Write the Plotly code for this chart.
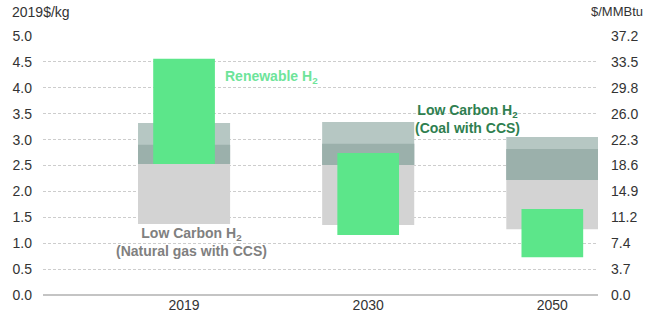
import plotly.graph_objects as go

# Hydrogen production cost ranges, 2019$/kg
years = ["2019", "2030", "2050"]
ng_ccs_low = [1.37, 1.35, 1.27]      # natural gas with CCS
ng_ccs_high = [2.90, 2.92, 2.82]
coal_ccs_low = [2.53, 2.51, 2.22]    # coal with CCS
coal_ccs_high = [3.32, 3.34, 3.05]
renew_low = [2.53, 1.16, 0.73]       # renewable (electrolysis)
renew_high = [4.56, 2.74, 1.66]

kg_to_mmbtu = 7.44                   # 2019$/kg -> $/MMBtu
left_ticks = [0.0, 0.5, 1.0, 1.5, 2.0, 2.5, 3.0, 3.5, 4.0, 4.5, 5.0]

C_GRAY = "#d3d3d3"
C_TEAL = "#b6c7c3"
C_OVER = "#9bb0ab"
C_GREEN = "#5ce68a"

xpos = list(range(len(years)))

fig = go.Figure()


def add_range(low, high, color, width):
    fig.add_trace(go.Bar(
        x=xpos, base=low, y=[h - l for l, h in zip(low, high)],
        width=width, marker=dict(color=color, line=dict(width=0)),
        hoverinfo="skip", showlegend=False,
    ))


add_range(ng_ccs_low, ng_ccs_high, C_GRAY, 0.5)
add_range(coal_ccs_low, coal_ccs_high, C_TEAL, 0.5)
overlap_low = [max(a, b) for a, b in zip(ng_ccs_low, coal_ccs_low)]
overlap_high = [min(a, b) for a, b in zip(ng_ccs_high, coal_ccs_high)]
add_range(overlap_low, overlap_high, C_OVER, 0.5)
add_range(renew_low, renew_high, C_GREEN, 0.335)

# invisible trace to carry the secondary ($/MMBtu) axis
fig.add_trace(go.Scatter(x=[xpos[0]], y=[0], yaxis="y2", mode="markers",
                         marker=dict(opacity=0), hoverinfo="skip", showlegend=False))

font_main = "Liberation Sans, Arial, sans-serif"
tick_font = dict(size=14, color="#333333")

fig.update_layout(
    width=650, height=326,
    margin=dict(l=43, r=48, t=36, b=31),
    paper_bgcolor="white", plot_bgcolor="white",
    barmode="overlay",
    font=dict(family=font_main, size=14, color="#333333"),
    xaxis=dict(
        range=[-0.766, 2.248],
        tickvals=xpos, ticktext=years,
        showgrid=False, zeroline=False, showline=False,
        ticks="", tickfont=tick_font,
    ),
    yaxis=dict(
        range=[0, 5], tickvals=left_ticks,
        ticktext=[f"{v:.1f}" for v in left_ticks],
        showgrid=True, gridcolor="#cdcdcd", gridwidth=1, griddash="3px,2px",
        zeroline=True, zerolinecolor="#c4c4c4", zerolinewidth=2,
        showline=False, ticks="", ticklabelstandoff=10,
        tickfont=tick_font,
    ),
    yaxis2=dict(
        overlaying="y", side="right",
        range=[0, 5 * kg_to_mmbtu],
        tickvals=[v * kg_to_mmbtu for v in left_ticks],
        ticktext=[f"{v * kg_to_mmbtu:.1f}" for v in left_ticks],
        showgrid=False, zeroline=False, showline=False, ticks="",
        ticklabelstandoff=12,
        tickfont=tick_font,
    ),
)

ann = []
ann.append(dict(xref="paper", yref="paper", x=-33 / 559, y=1.0 + 24 / 259,
                xanchor="left", yanchor="middle", showarrow=False,
                text="2019$/kg", font=dict(size=14, color="#333333")))
ann.append(dict(xref="paper", yref="paper", x=1.0 + 47 / 559, y=1.0 + 24 / 259,
                xanchor="right", yanchor="middle", showarrow=False,
                text="$/MMBtu", font=dict(size=13, color="#333333")))
ann.append(dict(xref="x", yref="y", x=0.21, y=4.2, xanchor="left", yanchor="middle",
                showarrow=False, text="<b>Renewable H<sub>2</sub></b>",
                font=dict(size=14, color="#6ee49a")))
ann.append(dict(xref="x", yref="y", x=1.54, y=3.39, xanchor="center", yanchor="middle",
                showarrow=False,
                text="<b>Low Carbon H<sub>2</sub><br>(Coal with CCS)</b>",
                font=dict(size=14, color="#2f7f50")))
ann.append(dict(xref="x", yref="y", x=0.04, y=1.02, xanchor="center", yanchor="middle",
                showarrow=False,
                text="<b>Low Carbon H<sub>2</sub><br>(Natural gas with CCS)</b>",
                font=dict(size=14, color="#808080")))
fig.update_layout(annotations=ann)

fig.write_html("out.html")
